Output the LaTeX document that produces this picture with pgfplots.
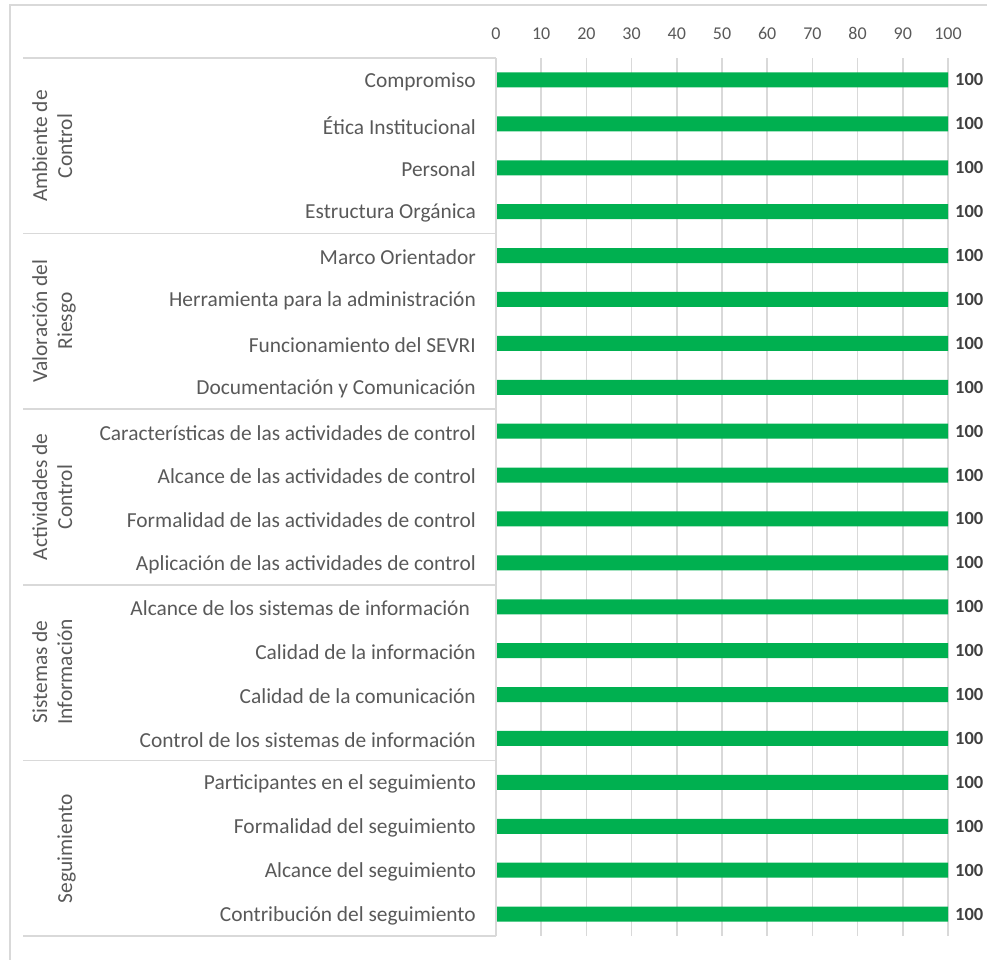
\documentclass[border=0pt]{standalone}
\usepackage{pgfplots}
\pgfplotsset{compat=1.18}
\usepackage{fontspec}
\setmainfont{Carlito}
\definecolor{bargreen}{HTML}{00B050}
\definecolor{txt}{HTML}{595959}
\definecolor{gridc}{HTML}{D9D9D9}
\definecolor{lbl}{HTML}{404040}
\begin{document}
\begin{tikzpicture}
\path[use as bounding box] (0,0) rectangle (987pt,-960pt);
\draw[gridc, line width=1.2pt] (10pt,-960pt) -- (10pt,-5pt) -- (987pt,-5pt);
\begin{axis}[
  at={(496pt,-936pt)}, anchor=south west,
  scale only axis, width=452pt, height=878pt,
  xbar, bar width=15pt,
  xmin=0, xmax=100, ymin=-0.5, ymax=19.5, y dir=reverse,
  xtick={0,10,...,100}, xticklabel pos=top,
  ytick={0,...,19},
  yticklabels={{Compromiso},{Ética Institucional},{Personal},{Estructura Orgánica},
    {Marco Orientador},{Herramienta para la administración},{Funcionamiento del SEVRI},{Documentación y Comunicación},
    {Características de las actividades de control},{Alcance de las actividades de control},{Formalidad de las actividades de control},{Aplicación de las actividades de control},
    {Alcance de los sistemas de información\kern6pt},{Calidad de la información},{Calidad de la comunicación},{Control de los sistemas de información},
    {Participantes en el seguimiento},{Formalidad del seguimiento},{Alcance del seguimiento},{Contribución del seguimiento}},
  axis line style={draw=none},
  major tick length=0pt,
  tick style={draw=none},
  xmajorgrids, grid style={gridc, line width=1.5pt},
  /pgf/number format/assume math mode=true,
  xticklabel style={font=\fontsize{18}{20}\selectfont, text=txt, anchor=base, inner sep=0pt, yshift=19pt},
  yticklabel style={font=\fontsize{21.4}{24}\selectfont, text=txt, anchor=east, inner sep=0pt, xshift=-20pt, yshift=-1.5pt},
  nodes near coords, point meta=x,
  nodes near coords style={anchor=west, inner sep=0pt, xshift=7pt, font=\bfseries\fontsize{18.5}{20}\selectfont, text=lbl},
  clip=false,
]
\addplot[fill=bargreen, draw=none] coordinates {
  (100,0) (100,1) (100,2) (100,3) (100,4) (100,5) (100,6) (100,7) (100,8) (100,9)
  (100,10) (100,11) (100,12) (100,13) (100,14) (100,15) (100,16) (100,17) (100,18) (100,19)};
\draw[gridc, line width=1.5pt] (axis cs:0,-0.5) -- ++(-473pt,0pt);
\draw[gridc, line width=1.5pt] (axis cs:0,3.5) -- ++(-473pt,0pt);
\draw[gridc, line width=1.5pt] (axis cs:0,7.5) -- ++(-473pt,0pt);
\draw[gridc, line width=1.5pt] (axis cs:0,11.5) -- ++(-473pt,0pt);
\draw[gridc, line width=1.5pt] (axis cs:0,15.5) -- ++(-473pt,0pt);
\draw[gridc, line width=1.5pt] (axis cs:0,19.5) -- ++(-473pt,0pt);
\draw[gridc, line width=1.5pt] (axis cs:0,-0.5) -- (axis cs:0,19.5);
\end{axis}
\begin{scope}[every node/.style={rotate=90, anchor=base, inner sep=0pt, text=txt, font=\fontsize{21.4}{24}\selectfont}]
\node at (47pt,-146pt) {Ambiente de};
\node at (72pt,-146pt) {Control};
\node at (47pt,-321pt) {Valoración del};
\node at (72pt,-321pt) {Riesgo};
\node at (47pt,-497pt) {Actividades de};
\node at (72pt,-497pt) {Control};
\node at (47pt,-672pt) {Sistemas de};
\node at (72pt,-672pt) {Información};
\node at (72pt,-849pt) {Seguimiento};
\end{scope}
\end{tikzpicture}
\end{document}
